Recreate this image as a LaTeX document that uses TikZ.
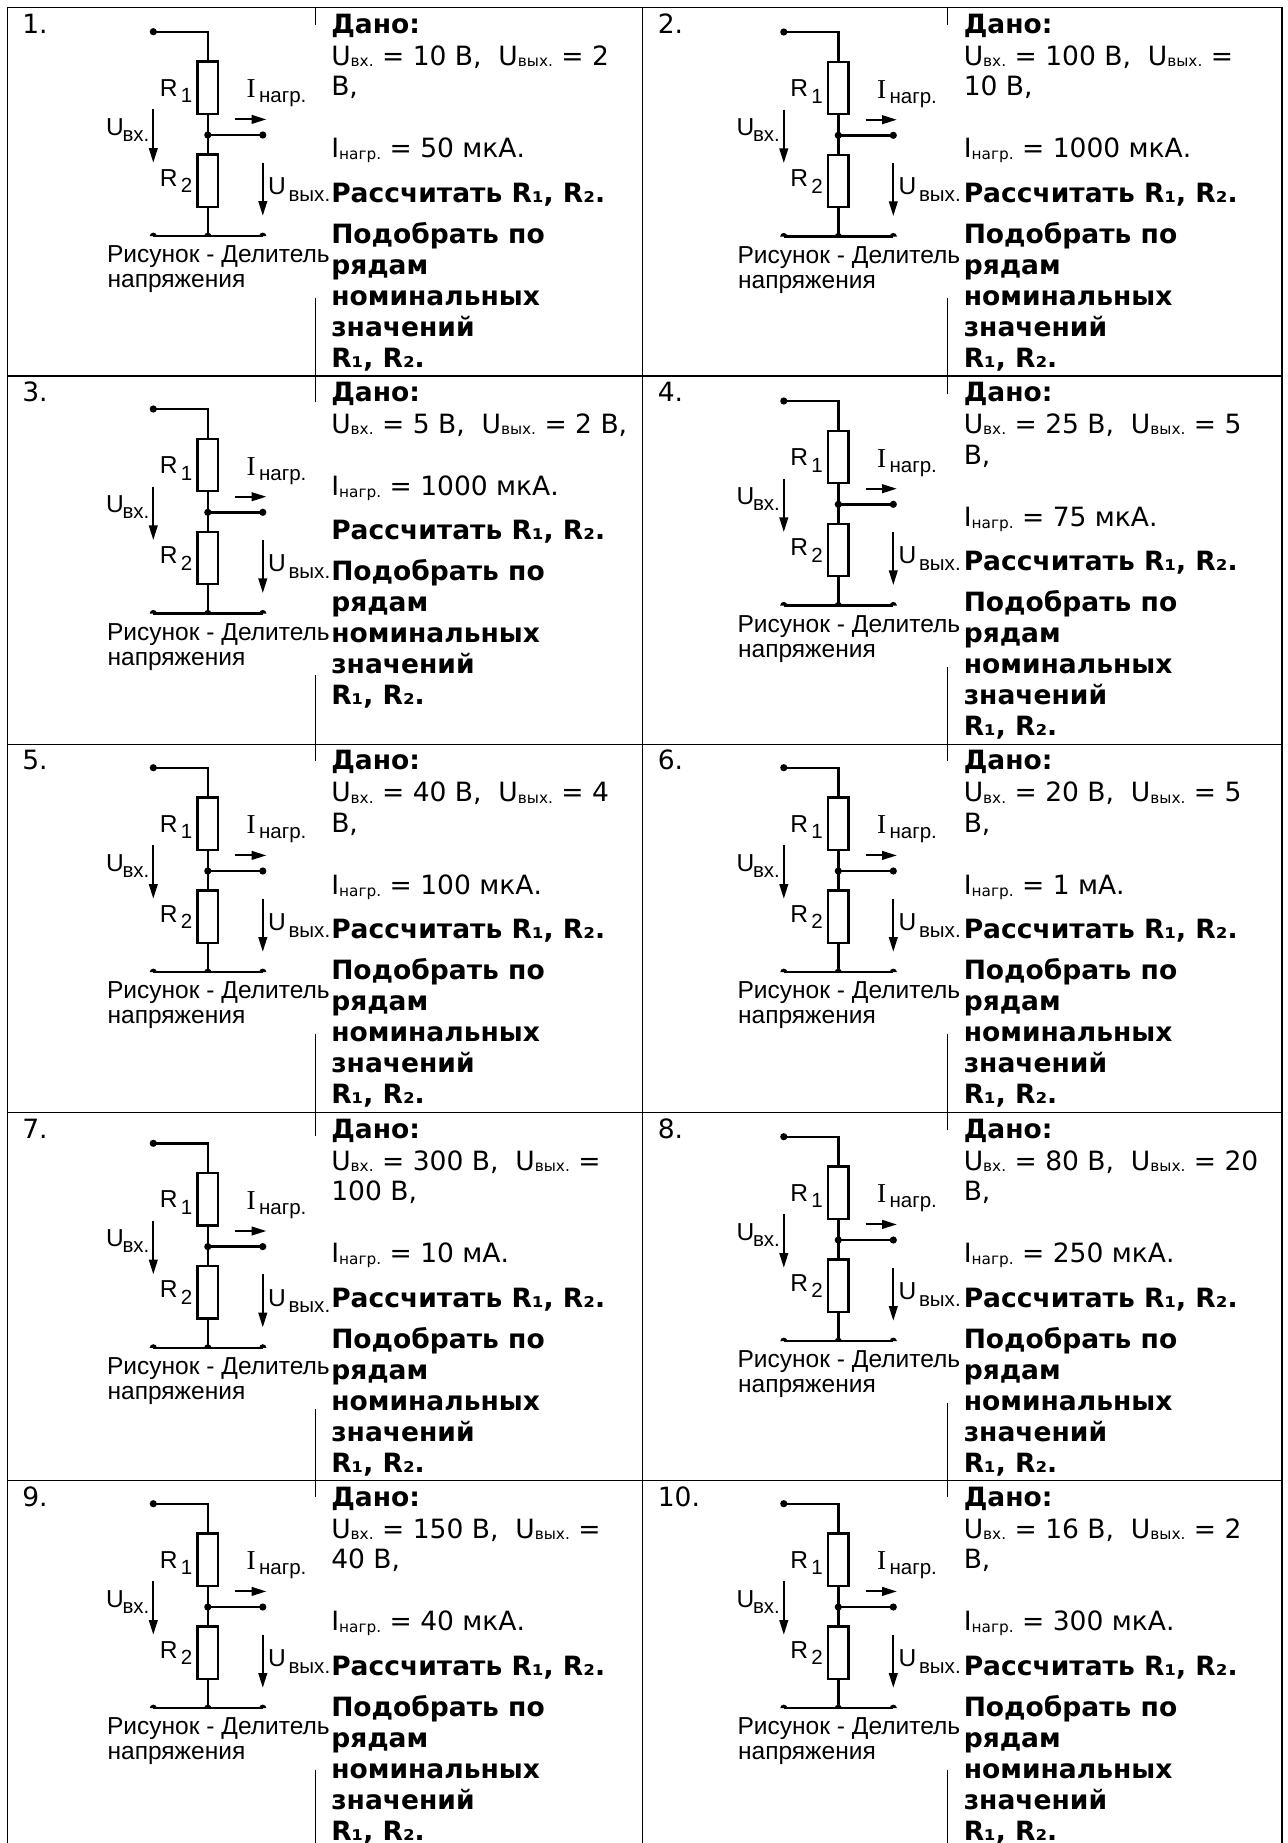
\documentclass[tikz,border=0pt]{standalone}
\usepackage{fontspec}
\setmainfont{DejaVu Sans}
\newfontfamily\cfont{Liberation Sans}
\newfontfamily\sfont{Liberation Serif}
\usetikzlibrary{arrows.meta}

\newcommand\lsub[1]{\raisebox{-0.9pt}{\fontsize{11.5pt}{13pt}\selectfont #1}}
\newcommand\isub[1]{\raisebox{-1.7pt}{\fontsize{11.5pt}{13pt}\selectfont #1}}

\tikzset{
  tline/.style={line width=1.1pt},
  txt/.style={anchor=base west, inner sep=0pt, font=\fontsize{19.9pt}{23pt}\selectfont},
  btxt/.style={anchor=base west, inner sep=0pt, font=\fontsize{19.9pt}{23pt}\selectfont\bfseries},
  wire/.style={line width=1.8pt},
  resbox/.style={draw, line width=1.8pt, minimum width=15.2pt, minimum height=39.2pt, inner sep=0pt},
  jdot/.style={circle, fill, inner sep=0pt, minimum size=5.4pt},
  uarrow/.style={line width=1.4pt, -{Triangle[length=11pt,width=6.5pt]}},
  clab/.style={anchor=base west, inner sep=0pt, font=\cfont\fontsize{18.4pt}{21pt}\selectfont},
  csub/.style={anchor=base west, inner sep=0pt, font=\cfont\fontsize{15.4pt}{18pt}\selectfont},
  ilab/.style={anchor=base west, inner sep=0pt, font=\sfont\fontsize{20.5pt}{22pt}\selectfont},
}

% circuit: #1 id, (#2,#3) input terminal
\newcommand\divider[3]{%
\begin{scope}[shift={(#2,#3)}]
  \node[jdot] (#1-in) at (0,0) {};
  \node[resbox] (#1-r1) at (54.5,56) {};
  \node[jdot] (#1-j) at (54.5,103.3) {};
  \node[jdot] (#1-out) at (109.5,103.3) {};
  \node[resbox] (#1-r2) at (54.5,149) {};
  \coordinate (#1-gl) at (0,204.5);
  \coordinate (#1-gm) at (54.5,204.5);
  \coordinate (#1-gr) at (109.5,204.5);
  \draw[wire] (#1-in.center) -| (#1-r1.north);
  \draw[wire] (#1-r1.south) -- (#1-r2.north);
  \draw[wire] (#1-j.center) -- (#1-out.center);
  \draw[wire] (#1-r2.south) -- (#1-gm);
  \draw[wire] (#1-gl) -- (#1-gr);
  \foreach \p in {gl,gm,gr}
    \fill ([xshift=-2.7pt]#1-\p) arc[start angle=180,end angle=0,radius=2.7pt] -- cycle;
  \coordinate (#1-ia) at (81.7,87.7);
  \coordinate (#1-ib) at (113,87.7);
  \coordinate (#1-ua) at (0,77.5);
  \coordinate (#1-ub) at (0,131);
  \coordinate (#1-va) at (109.5,131);
  \coordinate (#1-vb) at (109.5,184);
  \draw[uarrow] (#1-ia) -- (#1-ib);
  \draw[uarrow] (#1-ua) -- (#1-ub);
  \draw[uarrow] (#1-va) -- (#1-vb);
  \node[clab] (#1-R1) at (6.3,64.3) {R};
  \node[csub] (#1-R1s) at (27.3,71) {1};
  \node[clab] (#1-R2) at (6.3,154.3) {R};
  \node[csub] (#1-R2s) at (27.3,161) {2};
  \node[ilab] (#1-I) at (93,66) {I};
  \node[csub] (#1-Is) at (105.5,71) {нагр.};
  \node[clab] (#1-U) at (-47.5,103.5) {U};
  \node[csub] (#1-Us) at (-31,109.3) {вх.};
  \node[clab] (#1-V) at (114.5,162.7) {U};
  \node[csub] (#1-Vs) at (135,169.3) {вых.};
  \node[clab] (#1-cap1) at (-46.5,231) {Рисунок - Делитель};
  \node[clab] (#1-cap2) at (-46,256) {напряжения};
\end{scope}}

\def\colsetL{\def\numx{22}\def\dotx{153.3}\def\linex{315.5}\def\textx{331}}
\def\colsetR{\def\numx{657.5}\def\dotx{783.8}\def\linex{947.7}\def\textx{963.5}}

% #1 id, #2 column L/R, #3 row top, #4 row bottom, #5 terminal y, #6 number,
% #7 first data line, #8 second data line (may be empty), #9 load current
\newcommand\taskcell[9]{%
  \csname colset#2\endcsname
  \node[txt] (#1-num) at (\numx,#3+25.5) {#6.};
  \divider{#1}{\dotx}{#5}
  \draw[tline] (\linex,#3) -- (\linex,#5-7);
  \draw[tline] (\linex,#5+266) -- (\linex,#4);
  \node[btxt] (#1-dano) at (\textx,#3+25.5) {Дано:};
  \node[txt] (#1-u) at (\textx,#3+57.5) {#7};
  \def\ioff{150}%
  \if\relax\detokenize{#8}\relax
    \def\ioff{119}%
  \else
    \node[txt] (#1-u2) at (\textx,#3+88) {#8};
  \fi
  \node[txt] (#1-i) at (\textx,#3+\ioff) {I\isub{нагр.} = #9};
  \node[btxt] (#1-calc) at (\textx,#3+\ioff+44.5) {Рассчитать R₁, R₂.};
  \node[btxt] (#1-p1) at (\textx,#3+\ioff+85.5) {Подобрать по};
  \node[btxt] (#1-p2) at (\textx,#3+\ioff+116.5) {рядам};
  \node[btxt] (#1-p3) at (\textx,#3+\ioff+147.5) {номинальных};
  \node[btxt] (#1-p4) at (\textx,#3+\ioff+178.5) {значений};
  \node[btxt] (#1-p5) at (\textx,#3+\ioff+209.5) {R₁, R₂.};
}

\begin{document}
\begin{tikzpicture}[x=0.75pt, y=-0.75pt]
  \useasboundingbox (0,0) rectangle (1288,1843);
  % table grid
  \draw[tline] (7.5,1843) -- (7.5,7.5) -- (1282,7.5) -- (1282,1843);
  \draw[tline] (642.5,7.5) -- (642.5,1843);
  \foreach \yy in {376,744.3,1112.5,1480.5}
    \draw[tline] (7.5,\yy) -- (1282,\yy);

  \taskcell{c1}{L}{7.5}{376}{31.7}{1}{U\lsub{вх.} = 10 В,~ U\lsub{вых.} = 2}{В,}{50 мкА.}
  \taskcell{c2}{R}{7.5}{376}{32}{2}{U\lsub{вх.} = 100 В,~ U\lsub{вых.} =}{10 В,}{1000 мкА.}
  \taskcell{c3}{L}{376}{744.3}{409}{3}{U\lsub{вх.} = 5 В,~ U\lsub{вых.} = 2 В,}{}{1000 мкА.}
  \taskcell{c4}{R}{376}{744.3}{401}{4}{U\lsub{вх.} = 25 В,~ U\lsub{вых.} = 5}{В,}{75 мкА.}
  \taskcell{c5}{L}{744.3}{1112.5}{767.7}{5}{U\lsub{вх.} = 40 В,~ U\lsub{вых.} = 4}{В,}{100 мкА.}
  \taskcell{c6}{R}{744.3}{1112.5}{767.7}{6}{U\lsub{вх.} = 20 В,~ U\lsub{вых.} = 5}{В,}{1 мА.}
  \taskcell{c7}{L}{1112.5}{1480.5}{1143.3}{7}{U\lsub{вх.} = 300 В,~ U\lsub{вых.} =}{100 В,}{10 мА.}
  \taskcell{c8}{R}{1112.5}{1480.5}{1136.7}{8}{U\lsub{вх.} = 80 В,~ U\lsub{вых.} = 20}{В,}{250 мкА.}
  \taskcell{c9}{L}{1480.5}{1843}{1503.7}{9}{U\lsub{вх.} = 150 В,~ U\lsub{вых.} =}{40 В,}{40 мкА.}
  \taskcell{c10}{R}{1480.5}{1843}{1503.7}{10}{U\lsub{вх.} = 16 В,~ U\lsub{вых.} = 2}{В,}{300 мкА.}
\end{tikzpicture}
\end{document}
